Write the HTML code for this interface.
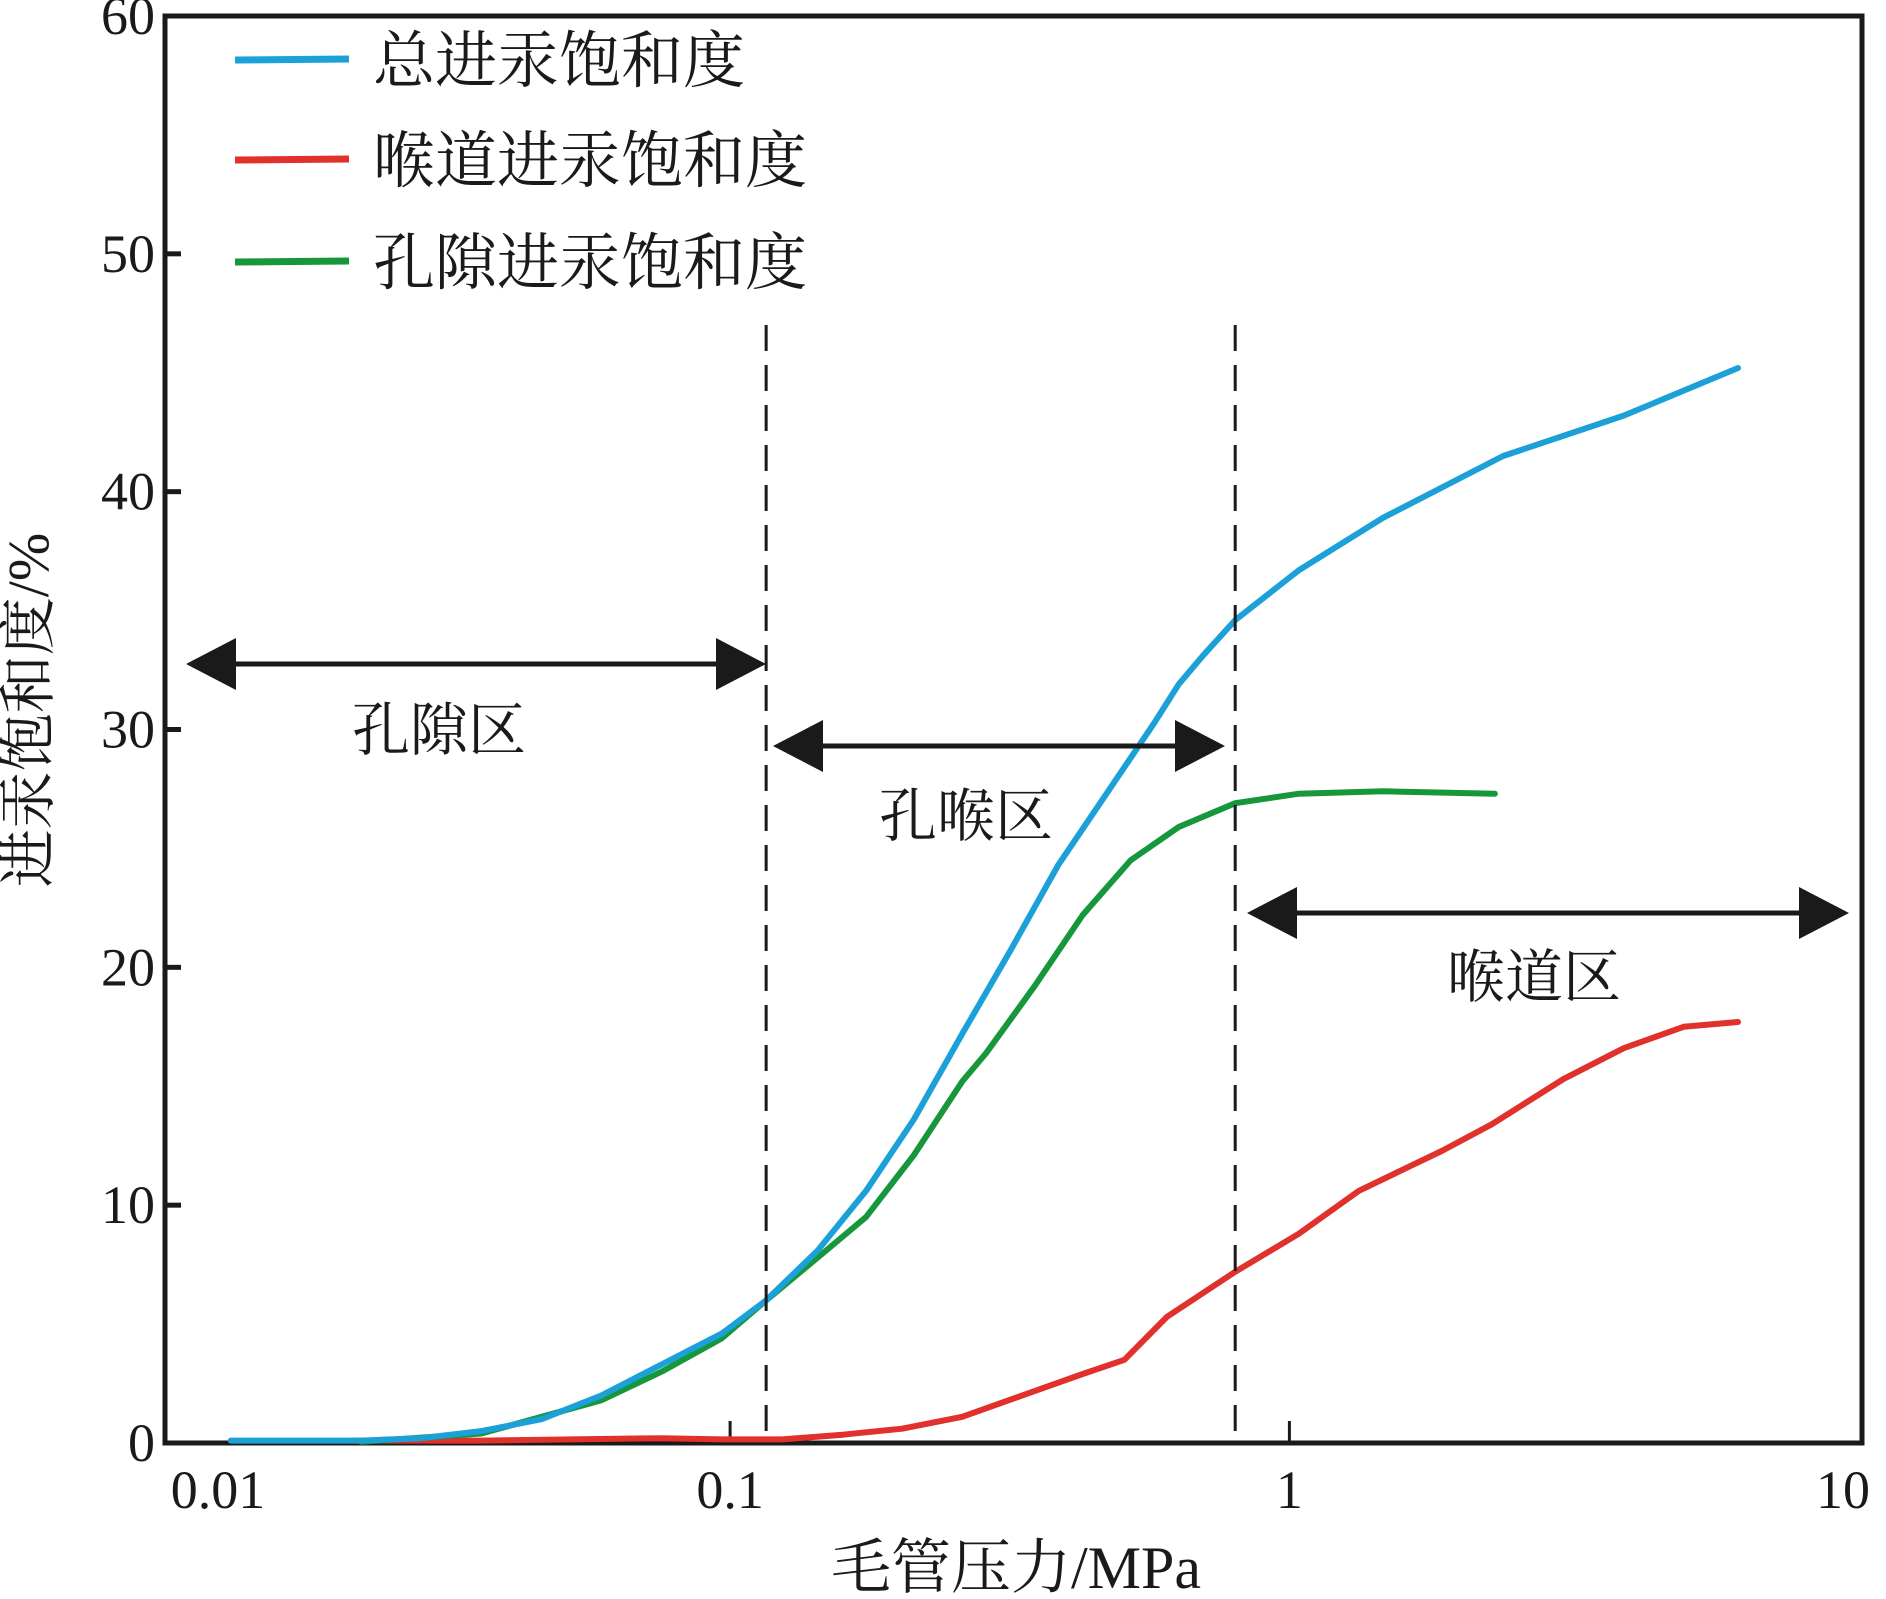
<!DOCTYPE html>
<html><head><meta charset="utf-8"><style>
html,body{margin:0;padding:0;background:#fff}
svg{display:block}
text{font-family:"Liberation Serif","Noto Serif CJK SC","Noto Sans CJK SC",serif;fill:#1a1a1a}
</style></head><body>
<svg id="chart" width="1886" height="1599" viewBox="0 0 1886 1599">
<g id="axes"></g><g id="marks"></g><g id="annot"></g>
</svg>
<script>
const xTicks=[0.01,0.1,1,10];
const xTickLabels=["0.01","0.1","1","10"];
const yTicks=[0,10,20,30,40,50,60];
const yTickLabels=["0","10","20","30","40","50","60"];
const totalP=[0.0128,0.0219,0.028,0.0359,0.046,0.0589,0.0754,0.0966,0.116,0.1435,0.175,0.213,0.26,0.317,0.386,0.471,0.574,0.634,0.70,0.80,1.04,1.47,2.41,3.96,6.34];
const totalS=[0.1,0.1,0.2,0.5,1.0,2.0,3.3,4.6,6.0,8.1,10.6,13.6,17.2,20.7,24.3,27.3,30.3,31.9,33.1,34.6,36.7,38.9,41.5,43.2,45.2];
const poreP=[0.0219,0.0359,0.0589,0.0754,0.0966,0.116,0.1435,0.175,0.213,0.26,0.287,0.35,0.427,0.52,0.634,0.80,1.04,1.47,2.33];
const poreS=[0.05,0.4,1.8,3.0,4.4,6.0,7.8,9.5,12.1,15.2,16.4,19.2,22.2,24.5,25.9,26.9,27.3,27.4,27.3];
const throatP=[0.0213,0.0359,0.0754,0.0966,0.124,0.159,0.203,0.26,0.333,0.427,0.507,0.604,0.80,1.04,1.33,1.88,2.30,3.09,3.96,5.07,6.34];
const throatS=[0.1,0.1,0.2,0.15,0.15,0.35,0.6,1.1,2.0,2.9,3.5,5.3,7.2,8.8,10.6,12.3,13.4,15.3,16.6,17.5,17.7];
const boundaries=[0.116,0.80];
const NS="http://www.w3.org/2000/svg";
const L=165,R=1862,T=16,B=1443;
function xs(p){return 730.1+(Math.log10(p)+1)*559.3;}
function ys(s){return B-(s/60)*(B-T);}
function mk(tag,attrs,parent,txt){const e=document.createElementNS(NS,tag);for(const k in attrs)e.setAttribute(k,attrs[k]);if(txt!==undefined)e.textContent=txt;parent.appendChild(e);return e;}
const axes=document.getElementById('axes'),marks=document.getElementById('marks'),annot=document.getElementById('annot');
let f=mk('rect',{x:L,y:T,width:R-L,height:B-T,fill:'none',stroke:'#1a1a1a','stroke-width':5},axes);


yTicks.forEach((v,i)=>{const y=ys(v);
 let t=mk('line',{x1:L,x2:L+16,y1:y,y2:y,stroke:'#1a1a1a','stroke-width':5},axes);
 
 
 let lb=mk('text',{x:155,y:y+18,'font-size':54,'text-anchor':'end'},axes,yTickLabels[i]);
 
 
});
const xLabelX=[218,733,1295,1843];
xTicks.forEach((v,i)=>{const x=xs(v);
 if(i===1||i===2){let t=mk('line',{x1:x,x2:x,y1:B,y2:B-22,stroke:'#1a1a1a','stroke-width':3},axes);
 
 }
 let lb=mk('text',{x:Math.min(Math.max(x,218),1843),y:1508,'font-size':54,'text-anchor':'middle'},axes,xTickLabels[i]);
 
 
});
let xt=mk('text',{x:1016,y:1588,'font-size':60,'text-anchor':'middle'},axes,'毛管压力/MPa');


let yt=mk('text',{x:0,y:0,'font-size':58,'text-anchor':'middle',transform:'translate(48,710) rotate(-90)'},axes,'进汞饱和度/%');


boundaries.forEach(b=>{let d=mk('line',{x1:xs(b),x2:xs(b),y1:325,y2:B,stroke:'#1a1a1a','stroke-width':3,'stroke-dasharray':'26 14'},annot);
 
 });
function series(P,S,color,name){const pts=P.map((p,i)=>xs(p).toFixed(1)+','+ys(S[i]).toFixed(1)).join(' ');
 let pl=mk('polyline',{points:pts,fill:'none',stroke:color,'stroke-width':6,'stroke-linejoin':'round','stroke-linecap':'round'},marks);
 
 }
series(throatP,throatS,'#e0312c','throat-saturation-line');
series(poreP,poreS,'#16973c','pore-saturation-line');
series(totalP,totalS,'#1ba0d8','total-saturation-line');
function arrow(x1,x2,y,name){const g=mk('g',{},annot);
 
 
 mk('line',{x1:x1+40,x2:x2-40,y1:y,y2:y,stroke:'#1a1a1a','stroke-width':5},g);
 mk('polygon',{points:`${x1},${y} ${x1+50},${y-26} ${x1+50},${y+26}`,fill:'#1a1a1a'},g);
 mk('polygon',{points:`${x2},${y} ${x2-50},${y-26} ${x2-50},${y+26}`,fill:'#1a1a1a'},g);}
arrow(186,766,664,'pore-zone-arrow');
arrow(773,1225,746,'pore-throat-zone-arrow');
arrow(1247,1849,913,'throat-zone-arrow');
[['孔隙区',439,750,'pore-zone-label'],['孔喉区',966,836,'pore-throat-zone-label'],['喉道区',1534,997,'throat-zone-label']].forEach(a=>{
 let t=mk('text',{x:a[1],y:a[2],'font-size':58,'text-anchor':'middle'},annot,a[0]);
 
 });
[['总进汞饱和度','#1ba0d8',60,'legend-total'],['喉道进汞饱和度','#e0312c',160,'legend-throat'],['孔隙进汞饱和度','#16973c',262,'legend-pore']].forEach(a=>{
 const g=mk('g',{},annot);
 
 
 mk('line',{x1:235,x2:349,y1:a[2],y2:a[2]-1,stroke:a[1],'stroke-width':7},g);
 mk('text',{x:373,y:a[2]+22,'font-size':62},g,a[0]);});
</script>
</body></html>
